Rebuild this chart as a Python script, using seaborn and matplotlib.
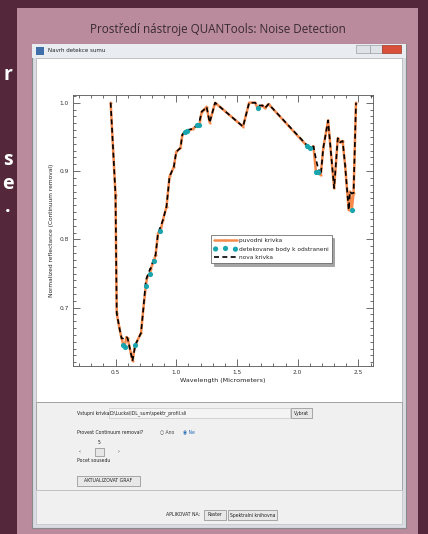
import numpy as np
import pandas as pd
import matplotlib
matplotlib.use("Agg")
import matplotlib.pyplot as plt
from matplotlib.patches import Rectangle
from matplotlib.ticker import MultipleLocator
import seaborn as sns

# vlnove delky (um) a puvodni krivka
wavelength = [0.46, 0.50, 0.51, 0.53, 0.55, 0.565, 0.575, 0.59, 0.60, 0.64,
              0.66, 0.67, 0.71, 0.73, 0.75, 0.76, 0.785, 0.79, 0.815, 0.83,
              0.85, 0.87, 0.89, 0.92, 0.945, 0.98, 1.00, 1.035, 1.05, 1.07,
              1.09, 1.14, 1.17, 1.19, 1.21, 1.23, 1.25, 1.275, 1.32, 1.55,
              1.60, 1.65, 1.67, 1.71, 1.73, 1.76, 2.08, 2.10, 2.13, 2.15,
              2.165, 2.19, 2.21, 2.25, 2.30, 2.33, 2.35, 2.37, 2.39, 2.42,
              2.43, 2.445, 2.46, 2.48]
original = [1.000, 0.865, 0.692, 0.672, 0.655, 0.645, 0.643, 0.657, 0.655, 0.622,
            0.645, 0.648, 0.663, 0.700, 0.732, 0.745, 0.750, 0.757, 0.768, 0.777,
            0.809, 0.812, 0.828, 0.848, 0.892, 0.906, 0.928, 0.934, 0.953, 0.957,
            0.958, 0.962, 0.967, 0.967, 0.987, 0.990, 0.994, 0.971, 1.000, 0.965,
            1.000, 1.000, 0.992, 0.996, 0.992, 0.998, 0.936, 0.933, 0.936, 0.899,
            0.898, 0.894, 0.933, 0.974, 0.875, 0.948, 0.942, 0.944, 0.909, 0.843,
            0.870, 0.843, 0.868, 1.000]
# nova krivka po odstraneni detekovanych bodu
corrected = [1.000, 0.865, 0.692, 0.672, 0.655, 0.655, 0.657, 0.657, 0.655, 0.622,
             0.642, 0.648, 0.663, 0.700, 0.740, 0.745, 0.757, 0.757, 0.772, 0.777,
             0.809, 0.818, 0.828, 0.848, 0.892, 0.906, 0.928, 0.934, 0.953, 0.958,
             0.960, 0.962, 0.967, 0.972, 0.987, 0.990, 0.994, 0.971, 1.000, 0.965,
             1.000, 1.000, 0.996, 0.996, 0.992, 0.998, 0.937, 0.935, 0.936, 0.918,
             0.906, 0.894, 0.933, 0.974, 0.875, 0.948, 0.942, 0.944, 0.909, 0.843,
             0.870, 0.867, 0.868, 1.000]
# indexy detekovanych bodu (sum)
detected_idx = [5, 6, 10, 14, 16, 18, 21, 29, 30, 32, 33, 42, 46, 47, 49, 50, 61]

xticks = [0.5, 1.0, 1.5, 2.0, 2.5]
yticks = [0.7, 0.8, 0.9, 1.0]

df = pd.DataFrame({"wl": wavelength, "orig": original, "new": corrected})
det = df.iloc[detected_idx]

W, H = 428, 534
sns.set_style("ticks")
plt.rcParams['font.family'] = ['DejaVu Sans']

fig = plt.figure(figsize=(W / 100, H / 100), dpi=100)
fig.patch.set_facecolor("#54283a")


def px_rect(x0, y0, x1, y1, **kw):
    r = Rectangle((x0 / W, 1 - y1 / H), (x1 - x0) / W, (y1 - y0) / H,
                  transform=fig.transFigure, zorder=0, **kw)
    fig.add_artist(r)
    return r


def px_text(x, y, s, **kw):
    fig.text(x / W, 1 - y / H, s, **kw)


# slide panel
px_rect(17, 8, 418, 540, facecolor="#b98b9c", edgecolor="none")
# oriznuty text slidu vlevo
for yy, s in [(75, "r"), (160, "s"), (184, "e"), (207, ".")]:
    px_text(8, yy, s, color="white", fontsize=14, ha="center", va="center",
            family="Open Sans", weight="bold")

px_text(218, 30, "Prostředí nástroje QUANTools: Noise Detection", color="#3a2a30",
        fontsize=8.4, ha="center", va="center", family="Open Sans")

# okno aplikace
px_rect(32, 44, 406, 528, facecolor="#d9dde3", edgecolor="#8a8a8a", linewidth=0.8)
px_rect(32, 44, 406, 58, facecolor="#e9edf2", edgecolor="none")
px_rect(36, 47, 44, 55, facecolor="#3f6fa8", edgecolor="none")
px_text(48, 51, "Navrh detekce sumu", fontsize=4, va="center", color="#222222")
px_rect(356, 45, 370, 53, facecolor="#dfe3e8", edgecolor="#9aa0a8", linewidth=0.5)
px_rect(370, 45, 382, 53, facecolor="#dfe3e8", edgecolor="#9aa0a8", linewidth=0.5)
px_rect(382, 45, 401, 53, facecolor="#d9503a", edgecolor="#9a3a2a", linewidth=0.5)
px_rect(36, 58, 402, 402, facecolor="white", edgecolor="#b0b0b0", linewidth=0.5)
px_rect(36, 402, 402, 490, facecolor="#f0f0f0", edgecolor="#9a9a9a", linewidth=0.6)
px_rect(36, 490, 402, 524, facecolor="#f0f0f0", edgecolor="#c0c0c0", linewidth=0.5)

# ovladaci prvky
px_text(77, 413, "Vstupni krivka:", fontsize=3.3, va="center", color="#222222")
px_rect(109, 408, 290, 418, facecolor="#f4f4f4", edgecolor="#c8c8c8", linewidth=0.5)
px_text(110, 413, "D:\\Lucka\\IDL_sum\\spektr_profil.sli", fontsize=3.3, va="center",
        color="#222222")
px_rect(291, 408, 312, 418, facecolor="#e8e8e8", edgecolor="#8a8a8a", linewidth=0.5)
px_text(301.5, 413, "Vybrat", fontsize=3.3, va="center", ha="center", color="#222222")
px_text(77, 432, "Provest Continuum removal?", fontsize=3.3, va="center", color="#222222")
px_text(160, 432, "○ Ano", fontsize=3.3, va="center", color="#444444")
px_text(183, 432, "◉ Ne", fontsize=3.3, va="center", color="#2a6fb8")
px_text(99, 443, "5", fontsize=3.3, va="center", ha="center", color="#222222")
px_text(79, 452, "‹", fontsize=3.3, va="center", color="#222222")
px_text(118, 452, "›", fontsize=3.3, va="center", color="#222222")
px_rect(95, 448, 104, 456, facecolor="#e6e6e6", edgecolor="#8a8a8a", linewidth=0.5)
px_text(77, 460, "Pocet sousedu", fontsize=3.3, va="center", color="#222222")
px_rect(77, 476, 140, 486, facecolor="#e8e8e8", edgecolor="#8a8a8a", linewidth=0.5)
px_text(108.5, 481, "AKTUALIZOVAT GRAF", fontsize=3.3, va="center", ha="center",
        color="#222222")
px_text(166, 515, "APLIKOVAT NA:", fontsize=3.3, va="center", color="#222222")
px_rect(204, 510, 226, 520, facecolor="#e8e8e8", edgecolor="#8a8a8a", linewidth=0.5)
px_text(215, 515, "Raster", fontsize=3.3, va="center", ha="center", color="#222222")
px_rect(228, 510, 277, 520, facecolor="#e8e8e8", edgecolor="#8a8a8a", linewidth=0.5)
px_text(252.5, 515, "Spektralni knihovna", fontsize=3.3, va="center", ha="center",
        color="#222222")

# graf
ax = fig.add_axes([73 / W, 1 - 366 / H, 300 / W, 271 / H])
ax.set_zorder(5)
ax.set_facecolor("white")
orange = "#f58a4c"
teal = "#1aa5ae"
sns.lineplot(data=df, x="wl", y="orig", ax=ax, color=orange, linewidth=1.8,
             marker="o", markersize=1.6, markeredgewidth=0, sort=False,
             estimator=None, label="puvodni krivka")
sns.scatterplot(data=det, x="wl", y="orig", ax=ax, color=teal, s=14, linewidth=0,
                label="detekovane body k odstraneni", zorder=3)
sns.lineplot(data=df, x="wl", y="new", ax=ax, color="black", linewidth=1.2,
             linestyle=(0, (3, 2)), sort=False, estimator=None, label="nova krivka")

ax.set_xlim(0.15, 2.62)
ax.set_ylim(0.6146, 1.0113)
ax.set_xticks(xticks)
ax.set_yticks(yticks)
ax.set_xticklabels([f"{v:.1f}" for v in xticks])
ax.set_yticklabels([f"{v:.1f}" for v in yticks])
ax.xaxis.set_minor_locator(MultipleLocator(0.1))
ax.yaxis.set_minor_locator(MultipleLocator(0.01))
ax.tick_params(which="both", direction="in", top=True, right=True, labelsize=4.2,
               colors="#333333", width=0.5, pad=3)
ax.tick_params(which="major", length=5)
ax.tick_params(which="minor", length=2.5)
for sp in ax.spines.values():
    sp.set_linewidth(0.6)
    sp.set_color("#555555")
ax.set_xlabel("Wavelength (Micrometers)", fontsize=4.6, color="#222222", labelpad=2)
ax.set_ylabel("Normalized reflectance (Continuum removal)", fontsize=4.2,
              color="#222222", labelpad=4)

leg = ax.legend(loc="upper left", bbox_to_anchor=(135 / 300, 1 - 137 / 271),
                fontsize=4.2, frameon=True, fancybox=False, shadow=True,
                handlelength=4, borderpad=0.5, labelspacing=0.6, handletextpad=0.3,
                scatterpoints=3)
leg.get_frame().set_edgecolor("#555555")
leg.get_frame().set_linewidth(0.5)

fig.savefig("out.png", dpi=100, facecolor=fig.get_facecolor())
